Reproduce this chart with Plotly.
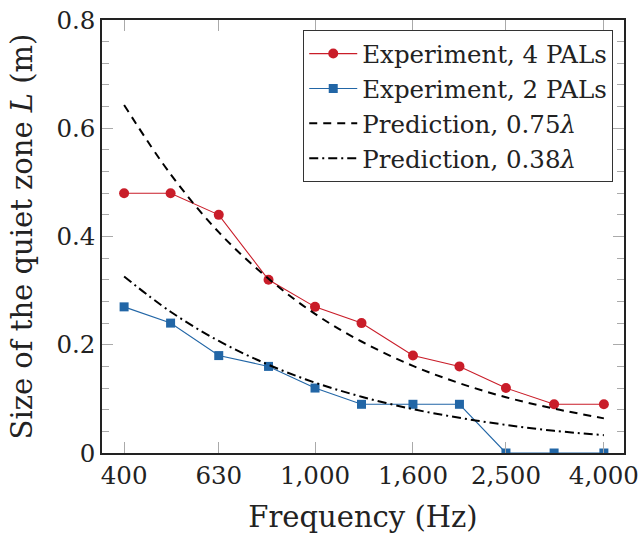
import plotly.graph_objects as go

# Third-octave band centre frequencies (Hz)
freqs = [400, 500, 630, 800, 1000, 1250, 1600, 2000, 2500, 3150, 4000]

# Measured quiet-zone size (m)
exp_4pal = [0.48, 0.48, 0.44, 0.32, 0.27, 0.24, 0.18, 0.16, 0.12, 0.09, 0.09]
exp_2pal = [0.27, 0.24, 0.18, 0.16, 0.12, 0.09, 0.09, 0.09, 0.0, 0.0, 0.0]

# Predicted quiet-zone size (m)
pred_075 = [0.643, 0.515, 0.408, 0.322, 0.257, 0.206, 0.161, 0.129, 0.103, 0.082, 0.064]
pred_038 = [0.326, 0.261, 0.207, 0.163, 0.130, 0.104, 0.081, 0.065, 0.052, 0.041, 0.033]

x_tickvals = [400, 630, 1000, 1600, 2500, 4000]
x_ticktext = ["400", "630", "1,000", "1,600", "2,500", "4,000"]
y_tickvals = [0, 0.2, 0.4, 0.6, 0.8]
y_ticktext = ["0", "0.2", "0.4", "0.6", "0.8"]

FONT = "'DejaVu Serif', serif"
FS = 24.5
RED = "#c91d29"
BLUE = "#2266a6"

fig = go.Figure()
fig.add_trace(go.Scatter(
    x=freqs, y=exp_4pal, mode="lines+markers", name="Experiment, 4 PALs",
    line=dict(color=RED, width=1.1),
    marker=dict(symbol="circle", size=10, color=RED),
))
fig.add_trace(go.Scatter(
    x=freqs, y=exp_2pal, mode="lines+markers", name="Experiment, 2 PALs",
    line=dict(color=BLUE, width=1.1),
    marker=dict(symbol="square", size=9, color=BLUE),
))
fig.add_trace(go.Scatter(
    x=freqs, y=pred_075, mode="lines", name="Prediction, 0.75<i>λ</i>",
    line=dict(color="black", width=2, dash="8px,6px", shape="spline"),
))
fig.add_trace(go.Scatter(
    x=freqs, y=pred_038, mode="lines", name="Prediction, 0.38<i>λ</i>",
    line=dict(color="black", width=2, dash="9px,4px,2px,4px", shape="spline"),
))

fig.update_layout(
    width=642, height=534,
    margin=dict(l=102, r=18, t=20, b=81),
    paper_bgcolor="white", plot_bgcolor="white",
    font=dict(family=FONT, size=FS, color="#222"),
    showlegend=True,
    legend=dict(
        x=0.979, y=0.977, xanchor="right", yanchor="top",
        bgcolor="white", bordercolor="#333", borderwidth=1.2,
        font=dict(family=FONT, size=FS, color="#222"),
        tracegroupgap=0, itemwidth=48,
    ),
)

fig.update_xaxes(
    type="log", range=[2.556, 3.644], automargin=False,
    tickvals=x_tickvals, ticktext=x_ticktext,
    ticks="inside", ticklen=11, tickwidth=1, tickcolor="#aaa",
    showline=True, linecolor="#222", linewidth=1.5, mirror="allticks",
    showgrid=False, zeroline=False,
    title=dict(text="Frequency (Hz)", standoff=26),
)
fig.update_yaxes(
    range=[0, 0.8], automargin=False,
    tickvals=y_tickvals, ticktext=y_ticktext,
    ticks="inside", ticklen=11, tickwidth=1, tickcolor="#aaa",
    minor=dict(dtick=0.04, ticks="inside", ticklen=7, tickwidth=1, tickcolor="#aaa", showgrid=False),
    showline=True, linecolor="#222", linewidth=1.5, mirror="allticks",
    showgrid=False, zeroline=False,
    title=dict(text="Size of the quiet zone <i>L</i> (m)", standoff=15),
)

fig.write_html("out.html")
